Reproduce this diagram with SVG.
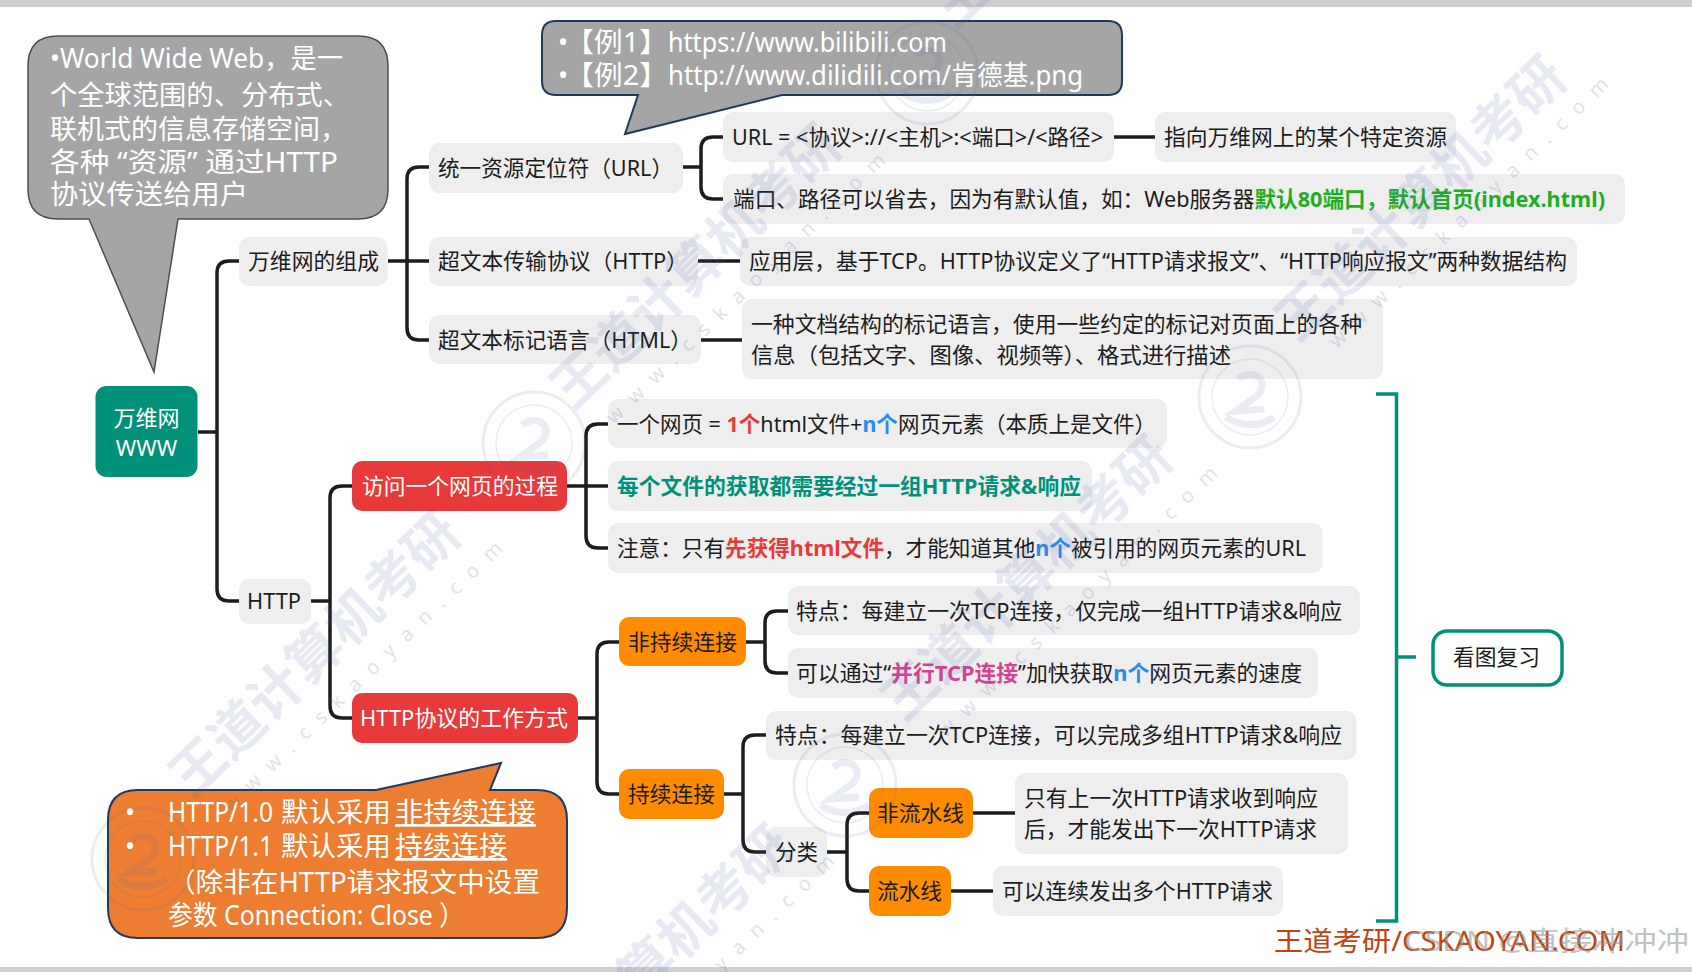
<svg xmlns="http://www.w3.org/2000/svg" width="1692" height="972" viewBox="0 0 1692 972">
<defs>
<style>
text{font-family:"Noto Sans","Noto Sans CJK SC",sans-serif;font-size:22px;fill:#1c1c1c;white-space:pre}
.n{fill:#eeeeef}
.r{fill:#e83a3a}
.o{fill:#ff8c00}
.b{font-weight:700}
.red{fill:#e83a3a;font-weight:700}
.blue{fill:#2a8ce8;font-weight:700}
.green{fill:#1fae1f;font-weight:700}
.teal{fill:#00917a;font-weight:700}
.pink{fill:#d6428f;font-weight:700}
.c{font-size:27px;fill:#fff}
.k{fill:none;stroke:#1d1d1d;stroke-width:3.5}
.t{fill:none;stroke:#00917a;stroke-width:3.5}
.wm{font-size:54px;font-weight:700;fill:#4f66a8;opacity:.13}
.ws{font-size:20px;letter-spacing:13px;fill:#4f66a8;opacity:.18}
</style>
<g id="stamp" fill="none" stroke="#4f66a8" opacity=".11">
<circle r="51" stroke-width="3"/>
<circle r="38" stroke-width="1.5"/>
<path d="M-12-18C4-30 20-16 8-2L-14 14 14 12M-24 20C-10 30 10 30 24 20" stroke-width="7"/>
</g>
</defs>
<rect width="1692" height="972" fill="#fff"/>
<rect id="band-top" width="1692" height="7" fill="#cfcfcf"/>
<rect id="band-bottom" y="967" width="1692" height="5" fill="#cfcfcf"/>

<g id="connectors">
<path class="k" d="M198 432H217M239 261H229Q217 261 217 273V589Q217 601 229 601H239"/>
<path class="k" d="M388 261H429M429 167H419Q407 167 407 179V328Q407 340 419 340H429"/>
<path class="k" d="M683 167H701M723 137H713Q701 137 701 149V187Q701 199 713 199H723"/>
<path class="k" d="M698 261H740M701 340H742M1114 137H1155"/>
<path class="k" d="M311 601H330M352 486H342Q330 486 330 498V706Q330 718 342 718H352"/>
<path class="k" d="M567 486H608M608 424H598Q586 424 586 436V536Q586 548 598 548H608"/>
<path class="k" d="M578 718H597M619 642H609Q597 642 597 654V782Q597 794 609 794H619"/>
<path class="k" d="M746 642H765M788 611H777Q765 611 765 623V661Q765 673 777 673H788"/>
<path class="k" d="M724 794H743M766 735H755Q743 735 743 747V840Q743 852 755 852H766"/>
<path class="k" d="M827 852H847M869 813H859Q847 813 847 825V879Q847 891 859 891H869"/>
<path class="k" d="M973 813H1015M951 891H993"/>
<path class="t" d="M1376 394H1396.500V921H1376M1396.500 657H1416"/>
</g>

<g id="callout-www"><path d="M58 36H358Q388 36 388 66V189Q388 219 358 219H178L154 372 89 219H58Q28 219 28 189V66Q28 36 58 36Z" fill="#a5a5a5" stroke="#4a4f55" stroke-width="1.500"/>
<text class="c" x="50" y="68" textLength="293" lengthAdjust="spacingAndGlyphs">•World Wide Web，是一</text>
<text class="c" x="50" y="105" textLength="300" lengthAdjust="spacingAndGlyphs">个全球范围的、分布式、</text>
<text class="c" x="50" y="139" textLength="297" lengthAdjust="spacingAndGlyphs">联机式的信息存储空间，</text>
<text class="c" x="50" y="172" textLength="288" lengthAdjust="spacingAndGlyphs">各种 “资源” 通过HTTP</text>
<text class="c" x="50" y="204" textLength="198" lengthAdjust="spacingAndGlyphs">协议传送给用户</text></g>

<g id="callout-url"><path d="M556 21H1108Q1122 21 1122 35V81Q1122 95 1108 95H782L625 134 638 95H556Q542 95 542 81V35Q542 21 556 21Z" fill="#a5a5a5" stroke="#1f3a5f" stroke-width="2"/>
<text class="c" x="558" y="52">•</text><text class="c" x="565" y="52" textLength="103" lengthAdjust="spacingAndGlyphs">【例1】</text><text class="c" x="668" y="52" textLength="279" lengthAdjust="spacingAndGlyphs">https://www.bilibili.com</text>
<text class="c" x="558" y="85">•</text><text class="c" x="565" y="85" textLength="103" lengthAdjust="spacingAndGlyphs">【例2】</text><text class="c" x="668" y="85" textLength="415" lengthAdjust="spacingAndGlyphs">http://www.dilidili.com/肯德基.png</text></g>

<g id="callout-http"><path d="M138 790H376L501 763 490 790H537Q567 790 567 820V908Q567 938 537 938H138Q108 938 108 908V820Q108 790 138 790Z" fill="#ed7d31" stroke="#1f3a5f" stroke-width="2"/>
<text class="c" x="125" y="822">•</text><text class="c" x="168" y="822" textLength="105" lengthAdjust="spacingAndGlyphs">HTTP/1.0</text><text class="c" x="281" y="822" textLength="110" lengthAdjust="spacingAndGlyphs">默认采用</text><text class="c" x="395" y="822" textLength="141" lengthAdjust="spacingAndGlyphs" text-decoration="underline">非持续连接</text>
<text class="c" x="125" y="856">•</text><text class="c" x="168" y="856" textLength="105" lengthAdjust="spacingAndGlyphs">HTTP/1.1</text><text class="c" x="281" y="856" textLength="110" lengthAdjust="spacingAndGlyphs">默认采用</text><text class="c" x="395" y="856" textLength="112" lengthAdjust="spacingAndGlyphs" text-decoration="underline">持续连接</text>
<text class="c" x="168" y="892" textLength="372" lengthAdjust="spacingAndGlyphs">（除非在HTTP请求报文中设置</text>
<text class="c" x="168" y="925" textLength="296" lengthAdjust="spacingAndGlyphs">参数 Connection: Close ）</text></g>

<g id="root"><rect x="95.500" y="386" width="102" height="91" rx="11" fill="#00917a"/>
<text x="146.500" y="426" text-anchor="middle" style="fill:#fff">万维网</text>
<text x="146.500" y="456" text-anchor="middle" style="fill:#fff">WWW</text></g>

<g id="n-compose"><rect class="n" x="239" y="237" width="148.500" height="49" rx="10"/><text x="248" y="269" textLength="131" lengthAdjust="spacingAndGlyphs">万维网的组成</text></g>
<g id="n-http"><rect class="n" x="239" y="579" width="72" height="45" rx="10"/><text x="247" y="609" textLength="54" lengthAdjust="spacingAndGlyphs">HTTP</text></g>
<g id="n-url"><rect class="n" x="429" y="143" width="254" height="50" rx="10"/><text x="438" y="176" textLength="235" lengthAdjust="spacingAndGlyphs">统一资源定位符（URL）</text></g>
<g id="n-htp"><rect class="n" x="429" y="237" width="269" height="49" rx="10"/><text x="438" y="269" textLength="250" lengthAdjust="spacingAndGlyphs">超文本传输协议（HTTP）</text></g>
<g id="n-html"><rect class="n" x="429" y="315" width="272" height="49" rx="10"/><text x="438" y="348" textLength="254" lengthAdjust="spacingAndGlyphs">超文本标记语言（HTML）</text></g>
<g id="n-urlfmt"><rect class="n" x="723" y="112" width="391" height="50" rx="10"/><text x="732" y="145" textLength="371" lengthAdjust="spacingAndGlyphs">URL = &lt;协议&gt;://&lt;主机&gt;:&lt;端口&gt;/&lt;路径&gt;</text></g>
<g id="n-res"><rect class="n" x="1155" y="112" width="301" height="50" rx="10"/><text x="1164" y="145" textLength="283" lengthAdjust="spacingAndGlyphs">指向万维网上的某个特定资源</text></g>
<g id="n-port"><rect class="n" x="723" y="174" width="902" height="50" rx="10"/><text x="733" y="207" textLength="872" lengthAdjust="spacingAndGlyphs">端口、路径可以省去，因为有默认值，如：Web服务器<tspan class="green">默认80端口，默认首页(index.html)</tspan></text></g>
<g id="n-app"><rect class="n" x="740" y="237" width="837" height="49" rx="10"/><text x="749" y="269" textLength="818" lengthAdjust="spacingAndGlyphs">应用层，基于TCP。HTTP协议定义了“HTTP请求报文”、“HTTP响应报文”两种数据结构</text></g>
<g id="n-markup"><rect class="n" x="742" y="299" width="641" height="80" rx="10"/><text x="751" y="332" textLength="611" lengthAdjust="spacingAndGlyphs">一种文档结构的标记语言，使用一些约定的标记对页面上的各种</text><text x="751" y="363" textLength="480" lengthAdjust="spacingAndGlyphs">信息（包括文字、图像、视频等）、格式进行描述</text></g>
<g id="n-page"><rect class="n" x="608" y="399" width="559" height="49" rx="10"/><text x="617" y="432" textLength="539" lengthAdjust="spacingAndGlyphs">一个网页 = <tspan class="red">1个</tspan>html文件+<tspan class="blue">n个</tspan>网页元素（本质上是文件）</text></g>
<g id="n-each"><rect class="n" x="608" y="461" width="484" height="50" rx="10"/><text x="617" y="494" class="teal" textLength="464" lengthAdjust="spacingAndGlyphs">每个文件的获取都需要经过一组HTTP请求&amp;响应</text></g>
<g id="n-note"><rect class="n" x="608" y="523" width="714.500" height="50" rx="10"/><text x="617" y="556" textLength="689" lengthAdjust="spacingAndGlyphs">注意：只有<tspan class="red">先获得html文件</tspan>，才能知道其他<tspan class="blue">n个</tspan>被引用的网页元素的URL</text></g>
<g id="n-visit"><rect class="r" x="352" y="461" width="215" height="50" rx="10"/><text x="362" y="494" style="fill:#fff" textLength="196" lengthAdjust="spacingAndGlyphs">访问一个网页的过程</text></g>
<g id="n-work"><rect class="r" x="352" y="693" width="226" height="50" rx="10"/><text x="360" y="726" style="fill:#fff" textLength="208" lengthAdjust="spacingAndGlyphs">HTTP协议的工作方式</text></g>
<g id="n-nonpersist"><rect class="o" x="619" y="617" width="127" height="49" rx="10"/><text x="628" y="650" textLength="109" lengthAdjust="spacingAndGlyphs">非持续连接</text></g>
<g id="n-persist"><rect class="o" x="619" y="769" width="105" height="50" rx="10"/><text x="628" y="802" textLength="87" lengthAdjust="spacingAndGlyphs">持续连接</text></g>
<g id="n-f1"><rect class="n" x="788" y="586" width="572" height="49" rx="10"/><text x="796" y="619" textLength="546" lengthAdjust="spacingAndGlyphs">特点：每建立一次TCP连接，仅完成一组HTTP请求&amp;响应</text></g>
<g id="n-f2"><rect class="n" x="788" y="648" width="530" height="50" rx="10"/><text x="796" y="681" textLength="506" lengthAdjust="spacingAndGlyphs">可以通过“<tspan class="pink">并行TCP连接</tspan>”加快获取<tspan class="blue">n个</tspan>网页元素的速度</text></g>
<g id="n-f3"><rect class="n" x="766" y="711" width="590.500" height="49" rx="10"/><text x="775" y="743" textLength="567" lengthAdjust="spacingAndGlyphs">特点：每建立一次TCP连接，可以完成多组HTTP请求&amp;响应</text></g>
<g id="n-class"><rect class="n" x="766" y="827" width="61" height="50" rx="10"/><text x="775" y="860" textLength="43" lengthAdjust="spacingAndGlyphs">分类</text></g>
<g id="n-nopipe"><rect class="o" x="869" y="788" width="104" height="50" rx="10"/><text x="877" y="821" textLength="87" lengthAdjust="spacingAndGlyphs">非流水线</text></g>
<g id="n-pipe"><rect class="o" x="869" y="866" width="82" height="50" rx="10"/><text x="877" y="899" textLength="65" lengthAdjust="spacingAndGlyphs">流水线</text></g>
<g id="n-nopipe-d"><rect class="n" x="1015" y="773" width="333" height="81" rx="10"/><text x="1024" y="806" textLength="294" lengthAdjust="spacingAndGlyphs">只有上一次HTTP请求收到响应</text><text x="1024" y="837" textLength="293" lengthAdjust="spacingAndGlyphs">后，才能发出下一次HTTP请求</text></g>
<g id="n-pipe-d"><rect class="n" x="993" y="866" width="290" height="50" rx="10"/><text x="1002" y="899" textLength="271" lengthAdjust="spacingAndGlyphs">可以连续发出多个HTTP请求</text></g>
<g id="n-review"><rect x="1433" y="631" width="129" height="54" rx="14" fill="#fff" stroke="#00917a" stroke-width="3.500"/><text x="1453" y="665" textLength="87" lengthAdjust="spacingAndGlyphs">看图复习</text></g>

<g id="watermark">
<text class="wm" transform="translate(328 668) rotate(-44)" text-anchor="middle">王道计算机考研</text>
<text class="wm" transform="translate(709 280) rotate(-44)" text-anchor="middle">王道计算机考研</text>
<text class="wm" transform="translate(1040 592) rotate(-44)" text-anchor="middle">王道计算机考研</text>
<text class="wm" transform="translate(1434 212) rotate(-44)" text-anchor="middle">王道计算机考研</text>
<text class="wm" transform="translate(660 981) rotate(-44)" text-anchor="middle">王道计算机考研</text>
<text class="wm" transform="translate(1091 -101) rotate(-44)" text-anchor="middle">王道计算机考研</text>
<text class="ws" transform="translate(372 677) rotate(-44)" text-anchor="middle">www.cskaoyan.com</text>
<text class="ws" transform="translate(755 289) rotate(-44)" text-anchor="middle">www.cskaoyan.com</text>
<text class="ws" transform="translate(1087 602) rotate(-44)" text-anchor="middle">www.cskaoyan.com</text>
<text class="ws" transform="translate(1478 213) rotate(-44)" text-anchor="middle">www.cskaoyan.com</text>
<text class="ws" transform="translate(704 990) rotate(-44)" text-anchor="middle">www.cskaoyan.com</text>
<use href="#stamp" x="534" y="443"/>
<use href="#stamp" x="1250" y="397"/>
<use href="#stamp" x="927" y="73"/>
<use href="#stamp" x="143" y="859"/>
<use href="#stamp" x="845" y="785"/>
</g>

<text id="brand" x="1274" y="951" style="font-size:27px;fill:#c0440f" textLength="351" lengthAdjust="spacingAndGlyphs">王道考研/CSKAOYAN.COM</text>
<text id="csdn" x="1404" y="951" style="font-size:27px;fill:#9a9a9a;opacity:.6" textLength="285" lengthAdjust="spacingAndGlyphs">CSDN @直接冲冲冲</text>
</svg>
